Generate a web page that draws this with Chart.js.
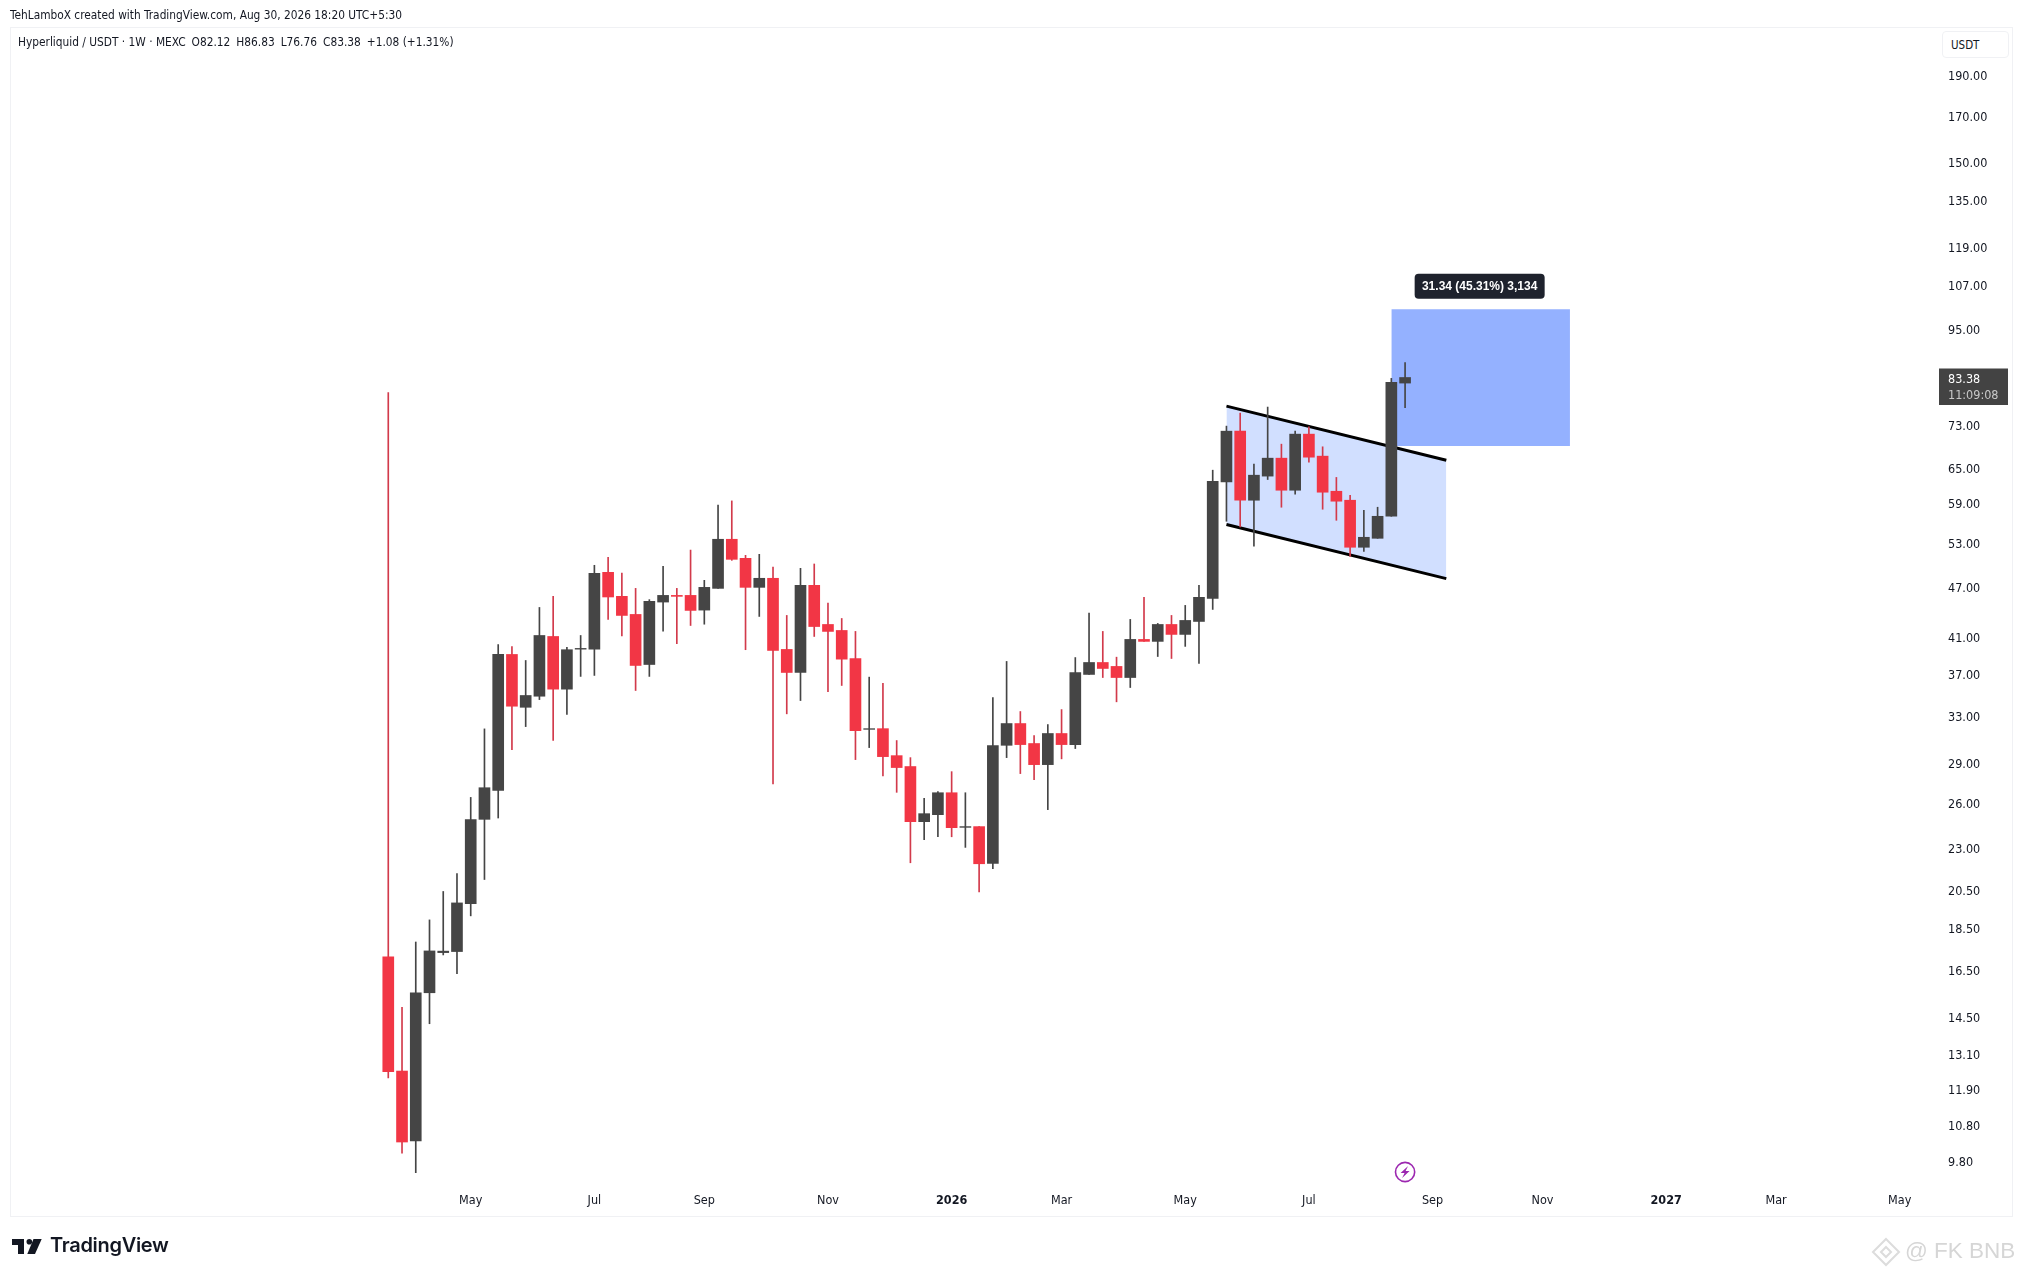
<!DOCTYPE html>
<html>
<head>
<meta charset="utf-8">
<title>Hyperliquid / USDT</title>
<script src="https://cdn.jsdelivr.net/npm/chart.js@4"></script>
<style>
  html, body { margin: 0; padding: 0; background: #fff; overflow: hidden; }
  body { width: 2022px; height: 1277px; position: relative; font-family: "DejaVu Sans Condensed", "DejaVu Sans", sans-serif; font-stretch: condensed; color: #131722; }
  canvas { position: absolute; left: 0; top: 0; }
  .txt { position: absolute; white-space: nowrap; }
  #frame { position: absolute; left: 10px; top: 27px; width: 2001px; height: 1188px; border: 1px solid #f0f1f4; box-sizing: content-box; }
  #unit { position: absolute; left: 1942px; top: 31px; width: 65px; height: 25px; border: 1px solid #f0f1f4; border-radius: 4px; background: #fff; }
  #created { left: 10px; top: 8px; font-size: 11.8px; }
  #legend { left: 18px; top: 35px; font-size: 11.8px; }
  #legend span { margin-left: 6px; }
  #unitText { left: 1951px; top: 38px; font-size: 11.5px; }
  #brand { left: 50px; top: 1233px; font-family: Inter, sans-serif; font-stretch: normal; font-weight: 600; font-size: 20px; letter-spacing: -0.3px; color: #131722; }
  #mark { left: 1905px; top: 1238px; font-family: "Liberation Sans", sans-serif; font-stretch: normal; font-size: 22.5px; color: #d6d6d6; }
  svg { position: absolute; left: 0; top: 0; }
</style>
</head>
<body>
<div id="frame"></div>
<canvas id="chart" width="2022" height="1277"></canvas>
<div id="unit"></div>
<div class="txt" id="unitText">USDT</div>
<div class="txt" id="created">TehLamboX created with TradingView.com, Aug 30, 2026 18:20 UTC+5:30</div>
<div class="txt" id="legend">Hyperliquid / USDT · 1W · MEXC<span>O82.12</span><span>H86.83</span><span>L76.76</span><span>C83.38</span><span>+1.08 (+1.31%)</span></div>
<div class="txt" id="brand">TradingView</div>
<div class="txt" id="mark">@ FK BNB</div>
<svg width="2022" height="1277">
  <polygon points="12,1239 24,1239 24,1254 18,1254 18,1245 12,1245" fill="#131722"/>
  <circle cx="29.3" cy="1241.8" r="2.8" fill="#131722"/>
  <polygon points="33.5,1239 41.7,1239 35,1254 27.3,1254" fill="#131722"/>
  <g fill="none" stroke="#dcdcdc" stroke-width="2">
    <polygon points="1886,1239 1899,1252 1886,1265 1873,1252"/>
    <polygon points="1886,1247 1891,1252 1886,1257 1881,1252"/>
  </g>
</svg>
<script>
var opens = [17.13,12.54,10.36,15.53,17.33,17.38,19.81,24.94,26.99,39.13,33.87,34.91,41.10,35.59,39.70,39.70,48.97,45.86,43.65,38.07,45.15,45.98,45.98,44.17,46.87,53.60,50.88,47.00,48.18,39.67,37.25,47.26,42.47,41.78,38.70,31.89,31.95,29.68,28.81,24.78,25.26,26.82,24.40,24.45,22.11,30.53,32.40,30.68,28.96,31.53,30.59,37.05,38.28,37.87,36.74,40.77,40.55,42.47,41.33,42.82,45.61,62.69,72.01,59.63,63.69,66.89,61.28,71.43,67.26,61.11,59.63,52.44,53.74,57.07,82.12];
var highs = [80.00,14.92,17.84,18.95,20.48,21.51,26.48,31.93,40.20,39.99,38.49,44.49,45.86,39.91,41.21,49.92,51.02,48.88,46.87,45.45,49.78,46.87,52.04,47.91,58.83,59.52,51.30,51.44,49.68,43.53,49.51,50.10,45.03,43.17,41.67,36.78,36.17,30.93,29.52,26.41,26.90,28.41,26.82,24.45,34.79,38.39,33.48,31.35,32.31,33.66,38.80,43.81,41.67,38.84,43.06,45.74,42.59,43.53,44.74,47.26,64.73,73.01,75.65,65.80,76.91,69.50,72.01,72.86,69.00,63.46,60.45,58.02,58.50,83.18,86.83];
var lows = [12.31,10.02,9.50,14.27,17.22,16.36,19.16,21.16,25.03,30.17,32.13,34.59,30.93,33.21,36.85,36.95,43.06,41.15,35.46,36.85,41.70,40.30,42.35,42.50,46.87,50.60,39.64,43.41,27.47,33.27,34.50,41.10,35.34,35.95,29.36,30.34,28.08,26.85,22.15,23.59,23.78,23.78,23.10,20.46,21.79,29.52,28.26,27.80,25.61,29.42,30.26,37.05,36.74,34.38,35.75,40.55,38.91,38.70,40.00,38.18,44.25,56.30,55.43,52.58,63.10,58.50,60.62,66.16,58.18,56.45,51.16,51.86,53.74,57.07,76.76];
var closes = [12.52,10.33,15.53,17.41,17.40,19.85,24.92,27.19,39.13,33.97,34.98,41.21,35.59,39.64,39.78,48.84,45.78,43.53,37.97,45.24,45.98,45.86,44.13,47.00,53.60,50.74,47.00,48.18,39.56,37.25,47.26,42.23,41.67,38.63,31.78,31.95,29.60,28.73,24.78,25.33,26.82,24.38,24.45,22.09,30.51,32.40,30.59,28.96,31.53,30.59,37.25,38.28,37.66,36.74,40.77,40.55,42.47,41.33,42.94,45.74,62.81,72.01,59.63,63.85,66.89,61.28,71.43,67.07,60.95,59.47,52.44,53.89,57.07,82.30,83.38];

var priceTicks = [190,170,150,135,119,107,95,73,65,59,53,47,41,37,33,29,26,23,20.5,18.5,16.5,14.5,13.1,11.9,10.8,9.8];
var timeTicks = [6,15,23,32,41,49,58,67,76,84,93,101,110];
var timeLabels = ["May","Jul","Sep","Nov","2026","Mar","May","Jul","Sep","Nov","2027","Mar","May"];

// descending channel and target box drawn on the chart
var channelX = [61,77];
var channelUpper = [77.11,66.52];
var channelLower = [55.80,48.13];
var targetX = [73,86];
var targetTop = [100.50,100.50];
var targetBottom = 69.16;

var measureLabel = "31.34 (45.31%) 3,134";
var countdown = "11:09:08";
var signalBar = 74;

var red = "#f23645";
var redWick = "#d23a4b";
var dark = "#454545";
var axisFont = "'DejaVu Sans Condensed', 'DejaVu Sans'";

function pairs(xs, ys) {
    var out = [];
    for (var i = 0; i < xs.length; i++) {
        out.push({ x: xs[i], y: ys[i] });
    }
    return out;
}

var wicks = [], bodies = [], colors = [], wickColors = [];
for (var i = 0; i < opens.length; i++) {
    var up = closes[i] >= opens[i];
    wicks.push({ x: i, y: [lows[i], highs[i]] });
    bodies.push({ x: i, y: [opens[i], closes[i]] });
    colors.push(up ? dark : red);
    wickColors.push(up ? dark : redWick);
}

// price tag, measure label and the little event icon
var overlays = {
    id: "overlays",
    afterDraw: function (chart) {
        var ctx = chart.ctx;
        var x = chart.scales.x;
        var y = chart.scales.y;
        var last = closes[closes.length - 1];
        var tagY = y.getPixelForValue(last);

        ctx.save();
        ctx.fillStyle = "#434343";
        ctx.fillRect(1939, tagY - 9, 69, 36.5);
        ctx.textBaseline = "middle";
        ctx.textAlign = "left";
        ctx.fillStyle = "#ffffff";
        ctx.font = "12.5px " + axisFont;
        ctx.fillText(last.toFixed(2), 1948, tagY + 2);
        ctx.fillStyle = "#c8c8c8";
        ctx.fillText(countdown, 1948, tagY + 18);

        var labelX = (x.getPixelForValue(targetX[0]) + x.getPixelForValue(targetX[1])) / 2 - 1;
        var labelY = y.getPixelForValue(targetTop[0]) - 23;
        ctx.fillStyle = "#1e222d";
        ctx.beginPath();
        ctx.roundRect(labelX - 65, labelY - 12.5, 130, 25, 4);
        ctx.fill();
        ctx.fillStyle = "#ffffff";
        ctx.textAlign = "center";
        ctx.font = "bold 12px 'Liberation Sans'";
        ctx.fillText(measureLabel, labelX, labelY + 0.5);

        var iconX = x.getPixelForValue(signalBar);
        var iconY = chart.chartArea.bottom - 11;
        ctx.strokeStyle = "#9c27b0";
        ctx.lineWidth = 1.6;
        ctx.beginPath();
        ctx.arc(iconX, iconY, 9.6, 0, Math.PI * 2);
        ctx.stroke();
        ctx.fillStyle = "#9c27b0";
        ctx.beginPath();
        ctx.moveTo(iconX + 3, iconY - 6);
        ctx.lineTo(iconX - 4.5, iconY + 1);
        ctx.lineTo(iconX - 0.5, iconY + 1);
        ctx.lineTo(iconX - 3, iconY + 6);
        ctx.lineTo(iconX + 4.5, iconY - 1);
        ctx.lineTo(iconX + 0.5, iconY - 1);
        ctx.closePath();
        ctx.fill();
        ctx.restore();
    }
};

var ctx = document.getElementById("chart").getContext("2d");

new Chart(ctx, {
    data: {
        datasets: [
            {
                type: "line",
                data: pairs(targetX, targetTop),
                borderWidth: 0,
                pointRadius: 0,
                backgroundColor: "#94b1ff",
                fill: { value: targetBottom },
                order: 5
            },
            {
                type: "line",
                data: pairs(channelX, channelUpper),
                borderColor: "#000000",
                borderWidth: 3,
                pointRadius: 0,
                backgroundColor: "#d1dfff",
                fill: "+1",
                order: 4
            },
            {
                type: "line",
                data: pairs(channelX, channelLower),
                borderColor: "#000000",
                borderWidth: 3,
                pointRadius: 0,
                fill: false,
                order: 3
            },
            {
                type: "bar",
                data: wicks,
                backgroundColor: wickColors,
                barThickness: 1,
                grouped: false,
                order: 2
            },
            {
                type: "bar",
                data: bodies,
                backgroundColor: colors,
                barThickness: 11,
                grouped: false,
                order: 1
            }
        ]
    },
    options: {
        responsive: false,
        animation: false,
        layout: { padding: { left: 10, right: 10, top: 27, bottom: 61 } },
        plugins: { legend: { display: false }, tooltip: { enabled: false } },
        scales: {
            x: {
                type: "linear",
                offset: false,
                min: -27.53,
                max: 112.93,
                grid: { display: false, drawTicks: false },
                border: { display: false },
                afterBuildTicks: function (scale) {
                    scale.ticks = timeTicks.map(function (v) { return { value: v }; });
                },
                afterFit: function (scale) { scale.height = 33; },
                ticks: {
                    autoSkip: false,
                    maxRotation: 0,
                    padding: 10,
                    color: "#131722",
                    font: function (c) {
                        var bold = c.tick && timeLabels[timeTicks.indexOf(c.tick.value)].length == 4;
                        return { family: axisFont, size: 12.5, weight: bold ? "bold" : "normal" };
                    },
                    callback: function (v) { return timeLabels[timeTicks.indexOf(v)]; }
                }
            },
            y: {
                type: "logarithmic",
                position: "right",
                min: 9.236,
                max: 217.2,
                grid: { display: false, drawTicks: false },
                border: { display: false },
                afterBuildTicks: function (scale) {
                    scale.ticks = priceTicks.map(function (v) { return { value: v }; });
                },
                afterFit: function (scale) { scale.width = 72; },
                ticks: {
                    autoSkip: false,
                    padding: 8,
                    labelOffset: 1,
                    color: "#131722",
                    font: { family: axisFont, size: 12.5 },
                    callback: function (v) { return v.toFixed(2); }
                }
            }
        }
    },
    plugins: [overlays]
});
</script>
</body>
</html>
